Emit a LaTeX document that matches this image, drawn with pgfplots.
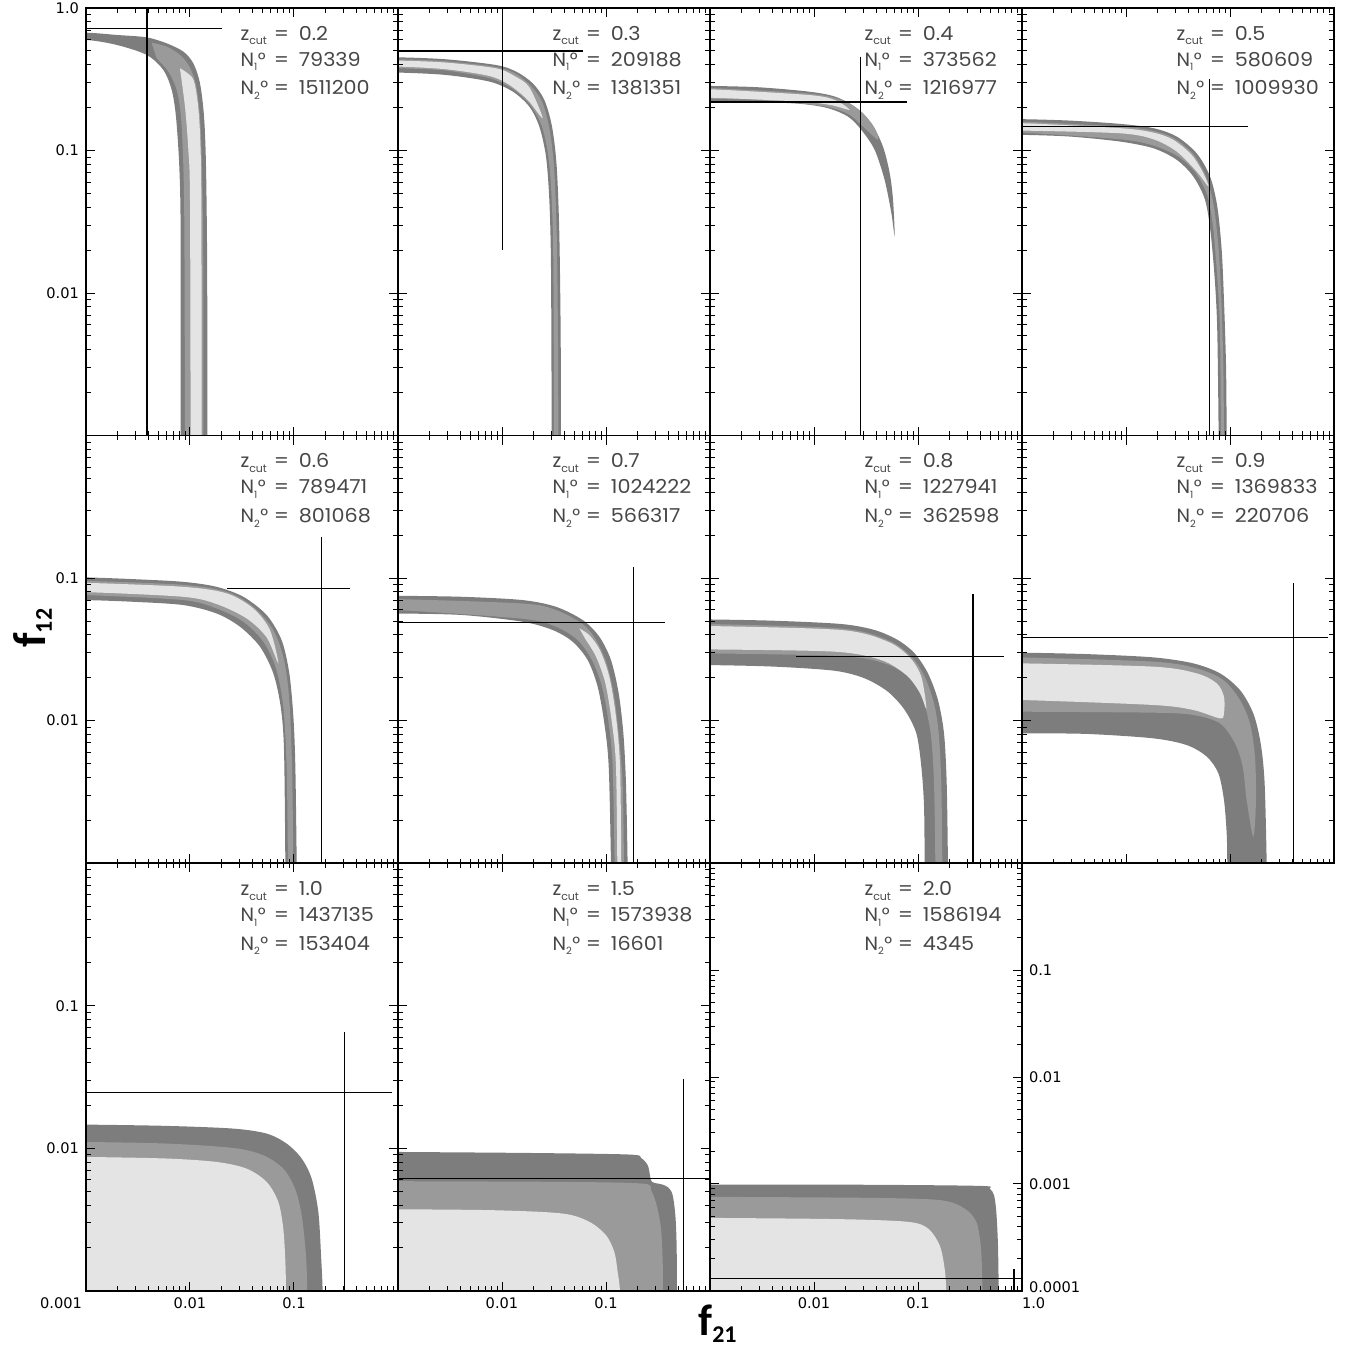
\documentclass[border=0pt]{standalone}
\usepackage{graphicx}
\usepackage{pgfplots}
\pgfplotsset{compat=1.18}
\usepackage{fontspec}
\setmainfont{DejaVu Sans}
\newfontfamily\annfont{Poppins}
\newfontfamily\labfont{Carlito}
\definecolor{dk}{RGB}{125,125,125}
\definecolor{md}{RGB}{154,154,154}
\definecolor{lt}{RGB}{228,228,228}
\newcommand{\annf}{\annfont\fontsize{9.6}{10}\selectfont}
\newcommand{\Nsub}[1]{N\raisebox{-0.45ex}{\fontsize{5}{5}\selectfont #1}\kern0.3pt°}
\newcommand{\annot}[3]{%
  \node[anchor=base west,inner sep=0pt,font=\annf,text=black!72] at (rel axis cs:0.494,0.925) {z\raisebox{-0.45ex}{\fontsize{5.5}{5.5}\selectfont cut}};
  \node[anchor=base west,inner sep=0pt,font=\annf,text=black!72] at (rel axis cs:0.601,0.925) {\scalebox{1.1}[1]{=}};
  \node[anchor=base west,inner sep=0pt,font=\annf,text=black!72] at (rel axis cs:0.681,0.925) {\scalebox{1.08}[1]{#1}};
  \node[anchor=base west,inner sep=0pt,font=\annf,text=black!72] at (rel axis cs:0.494,0.864) {\Nsub{1}};
  \node[anchor=base west,inner sep=0pt,font=\annf,text=black!72] at (rel axis cs:0.601,0.864) {\scalebox{1.1}[1]{=}};
  \node[anchor=base west,inner sep=0pt,font=\annf,text=black!72] at (rel axis cs:0.681,0.864) {\scalebox{1.08}[1]{#2}};
  \node[anchor=base west,inner sep=0pt,font=\annf,text=black!72] at (rel axis cs:0.494,0.797) {\Nsub{2}};
  \node[anchor=base west,inner sep=0pt,font=\annf,text=black!72] at (rel axis cs:0.601,0.797) {\scalebox{1.1}[1]{=}};
  \node[anchor=base west,inner sep=0pt,font=\annf,text=black!72] at (rel axis cs:0.681,0.797) {\scalebox{1.08}[1]{#3}};
}
\pgfplotsset{
 pan/.style={anchor=north west, scale only axis, width=156pt, height=213.8pt,
   xmin=-3,xmax=0,ymin=-3,ymax=0,
   xtick={-3,-2,-1,0}, ytick={-3,-2,-1,0},
   minor xtick={-2.699,-2.523,-2.398,-2.301,-2.222,-2.155,-2.097,-2.046,-1.699,-1.523,-1.398,-1.301,-1.222,-1.155,-1.097,-1.046,-0.699,-0.523,-0.398,-0.301,-0.222,-0.155,-0.097,-0.046},
   minor ytick={-2.699,-2.523,-2.398,-2.301,-2.222,-2.155,-2.097,-2.046,-1.699,-1.523,-1.398,-1.301,-1.222,-1.155,-1.097,-1.046,-0.699,-0.523,-0.398,-0.301,-0.222,-0.155,-0.097,-0.046},
   xticklabels={}, yticklabels={},
   tick align=inside, tick pos=both,
   major tick length=4.5pt, minor tick length=2.3pt,
   tick style={black,line width=0.5pt},
   axis line style={black,line width=0.8pt},
   axis on top,
   ticklabel style={font=\fontsize{7.3}{8.5}\selectfont},
 },
 dkf/.style={fill=dk,draw=none,smooth,tension=0.5},
 mdf/.style={fill=md,draw=none,smooth,tension=0.5},
 ltf/.style={fill=lt,draw=none,smooth,tension=0.5},
 xh/.style={black,line width=0.75pt},
}
\begin{document}
\begin{tikzpicture}
\path[use as bounding box] (0pt,0pt) rectangle (675.5pt,-674.5pt);

% ---------- z = 0.2
\begin{axis}[pan, at={(43pt,-4pt)}, yticklabels={,0.01,0.1,1.0}]
\addplot[dkf] coordinates {(-3.4,-0.173) (-3,-0.173) (-2.705,-0.189) (-2.417,-0.206) (-2.224,-0.248) (-2.064,-0.306) (-1.968,-0.388) (-1.904,-0.528) (-1.865,-0.762) (-1.846,-1.112) (-1.835,-1.813) (-1.833,-3.02) (-1.833,-3.4) (-2.09,-3.4) (-2.09,-3.02) (-2.090,-1.579) (-2.103,-1.112) (-2.135,-0.762) (-2.176,-0.575) (-2.256,-0.435) (-2.417,-0.329) (-2.705,-0.259) (-3,-0.224) (-3.4,-0.224)} -- cycle;
\addplot[mdf] coordinates {(-2.369,-0.243) (-2.224,-0.271) (-2.096,-0.329) (-2.006,-0.411) (-1.942,-0.540) (-1.904,-0.762) (-1.885,-1.112) (-1.872,-1.813) (-1.872,-3.02) (-1.872,-3.4) (-2.048,-3.4) (-2.048,-3.02) (-2.054,-1.579) (-2.064,-1.112) (-2.087,-0.762) (-2.128,-0.575) (-2.208,-0.446) (-2.321,-0.353)} -- cycle;
\addplot[ltf] coordinates {(-2.096,-0.423) (-1.974,-0.493) (-1.929,-0.645) (-1.904,-0.879) (-1.891,-1.346) (-1.888,-3.02) (-1.888,-3.4) (-1.994,-3.4) (-1.994,-3.02) (-2.0,-1.346) (-2.016,-0.995) (-2.045,-0.715) (-2.077,-0.528)} -- cycle;
\addplot[black,line width=1pt] coordinates {(-2.417,0) (-2.417,-3)};
\addplot[xh] coordinates {(-3,-0.143) (-1.696,-0.143)};
\annot{0.2}{79339}{1511200}
\end{axis}

% ---------- z = 0.3
\begin{axis}[pan, at={(199pt,-4pt)}]
\addplot[dkf] coordinates {(-3.4,-0.346) (-3,-0.346) (-2.538,-0.360) (-2.058,-0.400) (-1.865,-0.446) (-1.705,-0.528) (-1.593,-0.645) (-1.519,-0.832) (-1.474,-1.112) (-1.449,-1.579) (-1.436,-2.280) (-1.433,-3.02) (-1.433,-3.4) (-1.522,-3.4) (-1.522,-3.02) (-1.529,-1.813) (-1.545,-1.346) (-1.577,-1.042) (-1.641,-0.832) (-1.737,-0.692) (-1.897,-0.586) (-2.122,-0.516) (-2.538,-0.470) (-3,-0.453) (-3.4,-0.453)} -- cycle;
\addplot[mdf] coordinates {(-3.4,-0.360) (-3,-0.360) (-2.538,-0.374) (-2.058,-0.414) (-1.865,-0.463) (-1.721,-0.547) (-1.615,-0.657) (-1.545,-0.843) (-1.500,-1.112) (-1.474,-1.579) (-1.462,-2.280) (-1.458,-3.02) (-1.458,-3.4) (-1.500,-3.4) (-1.500,-3.02) (-1.506,-1.813) (-1.522,-1.346) (-1.554,-1.042) (-1.615,-0.832) (-1.721,-0.687) (-1.881,-0.575) (-2.106,-0.495) (-2.538,-0.439) (-3,-0.423) (-3.4,-0.423)} -- cycle;
\addplot[ltf] coordinates {(-3.4,-0.369) (-3,-0.369) (-2.538,-0.383) (-2.058,-0.423) (-1.881,-0.477) (-1.737,-0.556) (-1.609,-0.773) (-1.753,-0.645) (-1.929,-0.540) (-2.122,-0.477) (-2.538,-0.430) (-3,-0.411) (-3.4,-0.411)} -- cycle;
\addplot[black,line width=0.5pt] coordinates {(-1.994,0) (-1.994,-1.696)};
\addplot[xh] coordinates {(-3,-0.301) (-1.224,-0.301)};
\annot{0.3}{209188}{1381351}
\end{axis}

% ---------- z = 0.4
\begin{axis}[pan, at={(355pt,-4pt)}]
\addplot[dkf] coordinates {(-3.4,-0.547) (-3,-0.547) (-2.538,-0.556) (-2.058,-0.586) (-1.801,-0.621) (-1.609,-0.692) (-1.449,-0.808) (-1.337,-0.972) (-1.272,-1.159) (-1.240,-1.346) (-1.224,-1.603) (-1.256,-1.439) (-1.321,-1.206) (-1.417,-0.995) (-1.545,-0.855) (-1.673,-0.762) (-1.865,-0.703) (-2.122,-0.673) (-2.538,-0.659) (-3,-0.657) (-3.4,-0.657)} -- cycle;
\addplot[mdf] coordinates {(-3.4,-0.561) (-3,-0.561) (-2.058,-0.600) (-1.737,-0.645) (-1.545,-0.727) (-1.417,-0.843) (-1.385,-0.925) (-1.513,-0.843) (-1.673,-0.743) (-1.929,-0.687) (-2.538,-0.645) (-3,-0.640) (-3.4,-0.640)} -- cycle;
\addplot[ltf] coordinates {(-3.4,-0.570) (-3,-0.570) (-2.058,-0.610) (-1.801,-0.645) (-1.657,-0.715) (-1.833,-0.682) (-2.122,-0.657) (-3,-0.629) (-3.4,-0.629)} -- cycle;
\addplot[xh] coordinates {(-1.554,-0.341) (-1.554,-3)};
\addplot[xh] coordinates {(-3,-0.661) (-1.106,-0.661)};
\annot{0.4}{373562}{1216977}
\end{axis}

% ---------- z = 0.5
\begin{axis}[pan, at={(511pt,-4pt)}]
\addplot[dkf] coordinates {(-3.4,-0.780) (-3,-0.780) (-2.538,-0.790) (-2.058,-0.813) (-1.737,-0.843) (-1.513,-0.902) (-1.321,-1.019) (-1.192,-1.182) (-1.122,-1.393) (-1.080,-1.696) (-1.058,-2.047) (-1.038,-2.514) (-1.032,-3.02) (-1.032,-3.4) (-1.109,-3.4) (-1.109,-3.02) (-1.122,-2.280) (-1.144,-1.930) (-1.186,-1.579) (-1.240,-1.346) (-1.353,-1.182) (-1.513,-1.065) (-1.737,-0.984) (-2.058,-0.937) (-2.538,-0.902) (-3,-0.890) (-3.4,-0.890)} -- cycle;
\addplot[mdf] coordinates {(-3.4,-0.797) (-3,-0.797) (-2.058,-0.832) (-1.737,-0.862) (-1.529,-0.918) (-1.346,-1.033) (-1.224,-1.194) (-1.154,-1.397) (-1.109,-1.696) (-1.083,-2.047) (-1.064,-2.514) (-1.058,-3.02) (-1.058,-3.4) (-1.087,-3.4) (-1.087,-3.02) (-1.096,-2.280) (-1.119,-1.930) (-1.160,-1.556) (-1.215,-1.322) (-1.327,-1.159) (-1.497,-1.042) (-1.737,-0.965) (-2.058,-0.921) (-3,-0.874) (-3.4,-0.874)} -- cycle;
\addplot[ltf] coordinates {(-3.4,-0.808) (-3,-0.808) (-2.058,-0.843) (-1.737,-0.874) (-1.545,-0.925) (-1.369,-1.030) (-1.256,-1.159) (-1.208,-1.252) (-1.321,-1.147) (-1.513,-1.007) (-1.737,-0.921) (-2.058,-0.879) (-3,-0.860) (-3.4,-0.860)} -- cycle;
\addplot[black,line width=0.5pt] coordinates {(-1.199,-0.498) (-1.199,-3)};
\addplot[xh] coordinates {(-3,-0.832) (-0.830,-0.832)};
\annot{0.5}{580609}{1009930}
\end{axis}

% ---------- z = 0.6
\begin{axis}[pan, at={(43pt,-217.8pt)}, yticklabels={,0.01,0.1,}]
\addplot[dkf] coordinates {(-3.4,-0.995) (-3,-0.995) (-2.545,-1.007) (-2.064,-1.026) (-1.744,-1.061) (-1.487,-1.131) (-1.263,-1.259) (-1.119,-1.435) (-1.045,-1.668) (-1.006,-1.972) (-0.987,-2.322) (-0.974,-3.02) (-0.974,-3.4) (-1.083,-3.4) (-1.083,-3.02) (-1.096,-2.206) (-1.128,-1.902) (-1.199,-1.668) (-1.327,-1.481) (-1.519,-1.341) (-1.744,-1.248) (-2.064,-1.189) (-2.545,-1.166) (-3,-1.154) (-3.4,-1.154)} -- cycle;
\addplot[mdf] coordinates {(-3.4,-1.019) (-3,-1.019) (-2.064,-1.047) (-1.647,-1.096) (-1.391,-1.201) (-1.199,-1.364) (-1.096,-1.575) (-1.045,-1.855) (-1.019,-2.322) (-1.006,-3.02) (-1.006,-3.4) (-1.058,-3.4) (-1.058,-3.02) (-1.071,-2.322) (-1.103,-1.902) (-1.173,-1.633) (-1.295,-1.446) (-1.487,-1.306) (-1.744,-1.213) (-2.064,-1.154) (-3,-1.119) (-3.4,-1.119)} -- cycle;
\addplot[ltf] coordinates {(-3.4,-1.033) (-3,-1.033) (-2.064,-1.061) (-1.647,-1.107) (-1.391,-1.213) (-1.231,-1.364) (-1.151,-1.598) (-1.263,-1.416) (-1.455,-1.283) (-1.744,-1.182) (-2.064,-1.131) (-3,-1.098) (-3.4,-1.098)} -- cycle;
\addplot[black,line width=0.5pt] coordinates {(-0.731,-0.710) (-0.731,-3)};
\addplot[xh] coordinates {(-1.647,-1.072) (-0.462,-1.072)};
\annot{0.6}{789471}{801068}
\end{axis}

% ---------- z = 0.7
\begin{axis}[pan, at={(199pt,-217.8pt)}]
\addplot[dkf] coordinates {(-3.4,-1.124) (-3,-1.124) (-2.378,-1.131) (-1.801,-1.154) (-1.481,-1.201) (-1.224,-1.294) (-1.064,-1.411) (-0.952,-1.575) (-0.878,-1.808) (-0.833,-2.089) (-0.808,-2.439) (-0.792,-3.02) (-0.792,-3.4) (-0.952,-3.4) (-0.952,-3.02) (-0.974,-2.322) (-1.016,-2.019) (-1.080,-1.762) (-1.176,-1.575) (-1.321,-1.446) (-1.513,-1.364) (-1.801,-1.306) (-2.378,-1.259) (-3,-1.248) (-3.4,-1.248)} -- cycle;
\addplot[mdf] coordinates {(-3.4,-1.147) (-3,-1.147) (-1.801,-1.178) (-1.481,-1.224) (-1.224,-1.322) (-1.096,-1.435) (-0.994,-1.598) (-0.920,-1.832) (-0.872,-2.136) (-0.840,-2.439) (-0.827,-3.02) (-0.827,-3.4) (-0.917,-3.4) (-0.917,-3.02) (-0.936,-2.322) (-0.974,-2.019) (-1.038,-1.762) (-1.135,-1.575) (-1.272,-1.435) (-1.481,-1.341) (-1.801,-1.285) (-3,-1.224) (-3.4,-1.224)} -- cycle;
\addplot[ltf] coordinates {(-1.256,-1.353) (-1.160,-1.400) (-1.058,-1.505) (-0.968,-1.692) (-0.904,-1.972) (-0.865,-2.322) (-0.853,-3.02) (-0.853,-3.4) (-0.891,-3.4) (-0.891,-3.02) (-0.904,-2.322) (-0.942,-2.019) (-1.006,-1.738) (-1.096,-1.551) (-1.192,-1.435)} -- cycle;
\addplot[black,line width=0.5pt] coordinates {(-0.740,-0.921) (-0.740,-3)};
\addplot[xh] coordinates {(-3,-1.313) (-0.429,-1.313)};
\annot{0.7}{1024222}{566317}
\end{axis}

% ---------- z = 0.8
\begin{axis}[pan, at={(355pt,-217.8pt)}]
\addplot[dkf] coordinates {(-3.4,-1.290) (-3,-1.290) (-2.378,-1.299) (-1.737,-1.322) (-1.417,-1.364) (-1.192,-1.435) (-1.032,-1.528) (-0.904,-1.668) (-0.808,-1.855) (-0.750,-2.089) (-0.724,-2.439) (-0.712,-3.02) (-0.712,-3.4) (-0.936,-3.4) (-0.936,-3.02) (-0.942,-2.603) (-0.968,-2.322) (-1.016,-2.089) (-1.128,-1.925) (-1.289,-1.797) (-1.513,-1.703) (-1.801,-1.650) (-2.378,-1.621) (-3,-1.610) (-3.4,-1.610)} -- cycle;
\addplot[mdf] coordinates {(-3.4,-1.322) (-3,-1.322) (-1.737,-1.353) (-1.289,-1.435) (-1.064,-1.551) (-0.936,-1.692) (-0.846,-1.879) (-0.801,-2.089) (-0.776,-2.439) (-0.766,-3.02) (-0.766,-3.4) (-0.833,-3.4) (-0.833,-3.02) (-0.846,-2.439) (-0.878,-2.089) (-0.952,-1.855) (-1.096,-1.692) (-1.321,-1.598) (-1.737,-1.547) (-3,-1.528) (-3.4,-1.528)} -- cycle;
\addplot[ltf] coordinates {(-3.4,-1.336) (-3,-1.336) (-1.737,-1.364) (-1.289,-1.446) (-1.080,-1.556) (-0.968,-1.692) (-0.920,-1.914) (-0.985,-1.800) (-1.112,-1.680) (-1.353,-1.575) (-1.801,-1.516) (-3,-1.500) (-3.4,-1.500)} -- cycle;
\addplot[xh] coordinates {(-0.471,-1.112) (-0.471,-3)};
\addplot[xh] coordinates {(-2.170,-1.551) (-0.176,-1.551)};
\annot{0.8}{1227941}{362598}
\end{axis}

% ---------- z = 0.9
\begin{axis}[pan, at={(511pt,-217.8pt)}]
\addplot[dkf] coordinates {(-3.4,-1.523) (-3,-1.523) (-2.378,-1.533) (-1.737,-1.556) (-1.353,-1.598) (-1.096,-1.668) (-0.904,-1.785) (-0.776,-1.949) (-0.705,-2.159) (-0.667,-2.439) (-0.647,-3.02) (-0.647,-3.4) (-1.026,-3.4) (-1.026,-3.02) (-1.032,-2.790) (-1.058,-2.556) (-1.112,-2.369) (-1.224,-2.252) (-1.417,-2.171) (-1.737,-2.124) (-2.378,-2.093) (-3,-2.089) (-3.4,-2.089)} -- cycle;
\addplot[mdf] coordinates {(-3.4,-1.556) (-3,-1.556) (-1.737,-1.586) (-1.321,-1.633) (-1.064,-1.715) (-0.904,-1.855) (-0.808,-2.019) (-0.760,-2.252) (-0.750,-2.556) (-0.776,-2.813) (-0.840,-2.556) (-0.878,-2.322) (-0.952,-2.159) (-1.096,-2.019) (-1.353,-1.960) (-1.737,-1.944) (-3,-1.937) (-3.4,-1.937)} -- cycle;
\addplot[ltf] coordinates {(-3.4,-1.598) (-3,-1.598) (-1.737,-1.621) (-1.321,-1.668) (-1.128,-1.738) (-1.058,-1.832) (-1.058,-1.949) (-1.096,-1.984) (-1.353,-1.925) (-1.737,-1.890) (-3,-1.855) (-3.4,-1.855)} -- cycle;
\addplot[black,line width=0.5pt] coordinates {(-0.391,-1.037) (-0.391,-3)};
\addplot[xh] coordinates {(-3,-1.418) (-0.054,-1.418)};
\annot{0.9}{1369833}{220706}
\end{axis}

% ---------- z = 1.0
\begin{axis}[pan, at={(43pt,-431.6pt)}, yticklabels={,0.01,0.1,}, xticklabels={\llap{0.001\hspace{2pt}},0.01,0.1,}]
\addplot[dkf] coordinates {(-3.4,-1.834) (-3,-1.834) (-2.224,-1.843) (-1.583,-1.862) (-1.263,-1.897) (-1.071,-1.967) (-0.926,-2.072) (-0.830,-2.213) (-0.766,-2.446) (-0.740,-2.750) (-0.724,-3.02) (-0.724,-3.4) (-3.4,-3.4)} -- cycle;
\addplot[mdf] coordinates {(-3.4,-1.956) (-3,-1.956) (-2.224,-1.967) (-1.583,-1.998) (-1.295,-2.049) (-1.103,-2.143) (-0.990,-2.283) (-0.926,-2.470) (-0.885,-2.750) (-0.872,-3.02) (-0.872,-3.4) (-3.4,-3.4)} -- cycle;
\addplot[ltf] coordinates {(-3.4,-2.061) (-3,-2.061) (-2.224,-2.072) (-1.744,-2.096) (-1.455,-2.143) (-1.263,-2.236) (-1.151,-2.376) (-1.103,-2.563) (-1.083,-2.797) (-1.077,-3.02) (-1.077,-3.4) (-3.4,-3.4)} -- cycle;
\addplot[xh] coordinates {(-0.516,-1.185) (-0.516,-3)};
\addplot[xh] coordinates {(-3,-1.610) (-0.061,-1.610)};
\annot{1.0}{1437135}{153404}
\end{axis}

% ---------- z = 1.5
\begin{axis}[pan, at={(199pt,-431.6pt)}, xticklabels={,0.01,0.1,}]
\addplot[dkf] coordinates {(-3.4,-2.026) (-3,-2.026) (-1.737,-2.033) (-0.776,-2.044) (-0.663,-2.068) (-0.599,-2.119) (-0.577,-2.189) (-0.558,-2.236) (-0.455,-2.255) (-0.397,-2.278) (-0.359,-2.329) (-0.333,-2.470) (-0.321,-2.680) (-0.317,-3.02) (-0.317,-3.4) (-3.4,-3.4)} -- cycle;
\addplot[mdf] coordinates {(-3.4,-2.231) (-3,-2.231) (-1.417,-2.236) (-0.647,-2.248) (-0.567,-2.294) (-0.513,-2.400) (-0.471,-2.563) (-0.455,-2.797) (-0.452,-3.02) (-0.452,-3.4) (-3.4,-3.4)} -- cycle;
\addplot[ltf] coordinates {(-3.4,-2.428) (-3,-2.428) (-2.058,-2.435) (-1.417,-2.458) (-1.160,-2.516) (-1.000,-2.610) (-0.920,-2.727) (-0.888,-2.867) (-0.865,-3.02) (-0.865,-3.4) (-3.4,-3.4)} -- cycle;
\addplot[xh] coordinates {(-0.253,-1.516) (-0.253,-3)};
\addplot[xh] coordinates {(-3,-2.213) (0,-2.213)};
\annot{1.5}{1573938}{16601}
\end{axis}

% ---------- z = 2.0
\begin{axis}[pan, at={(355pt,-431.6pt)}, ymin=-4, ymax=0,
  ytick={-4,-3,-2,-1,0},
  minor ytick={-3.699,-3.523,-3.398,-3.301,-3.222,-3.155,-3.097,-3.046,-2.699,-2.523,-2.398,-2.301,-2.222,-2.155,-2.097,-2.046,-1.699,-1.523,-1.398,-1.301,-1.222,-1.155,-1.097,-1.046,-0.699,-0.523,-0.398,-0.301,-0.222,-0.155,-0.097,-0.046},
  yticklabel pos=right, yticklabels={\raisebox{3.5pt}{0.0001},0.001,0.01,0.1,},
  xticklabels={,0.01,0.1,\rlap{1.0}}]
\addplot[dkf] coordinates {(-3.4,-3.006) (-3,-3.006) (-1.5,-3.008) (-0.391,-3.019) (-0.311,-3.044) (-0.269,-3.106) (-0.247,-3.262) (-0.231,-3.573) (-0.224,-4.02) (-0.224,-4.4) (-3.4,-4.4)} -- cycle;
\addplot[mdf] coordinates {(-3.4,-3.121) (-3,-3.121) (-1.417,-3.131) (-0.776,-3.153) (-0.551,-3.231) (-0.439,-3.355) (-0.397,-3.573) (-0.385,-3.791) (-0.381,-4.02) (-0.381,-4.4) (-3.4,-4.4)} -- cycle;
\addplot[ltf] coordinates {(-3.4,-3.318) (-3,-3.318) (-1.737,-3.330) (-1.096,-3.355) (-0.904,-3.417) (-0.792,-3.573) (-0.744,-3.791) (-0.728,-4.02) (-0.728,-4.4) (-3.4,-4.4)} -- cycle;
\addplot[xh] coordinates {(-0.077,-3.798) (-0.077,-4)};
\addplot[xh] coordinates {(-3,-3.885) (0,-3.885)};
\annot{2.0}{1586194}{4345}
\end{axis}

\node[rotate=90, anchor=base west, inner sep=0pt, font=\labfont\bfseries\fontsize{23}{23}\selectfont] at (23pt,-324pt) {f\raisebox{-3pt}{\fontsize{12}{12}\selectfont 12}};
\node[anchor=base west, inner sep=0pt, font=\labfont\bfseries\fontsize{22}{22}\selectfont] at (349pt,-667.5pt) {f\raisebox{-3.5pt}{\fontsize{12}{12}\selectfont 21}};
\end{tikzpicture}
\end{document}
